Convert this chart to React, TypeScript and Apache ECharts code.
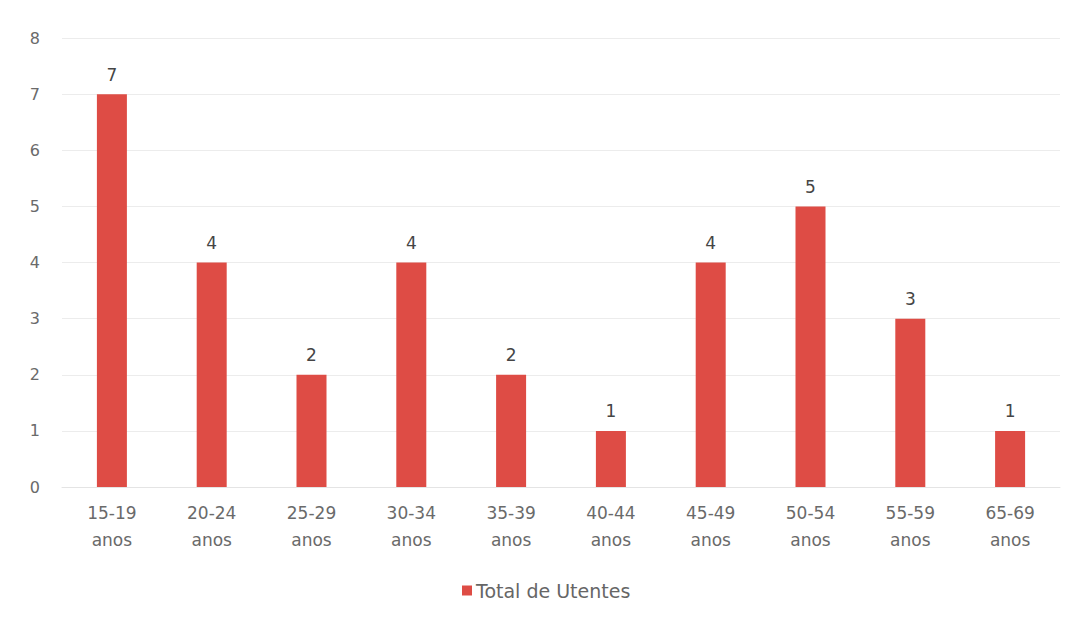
import React, { useEffect, useRef } from "react";
import * as echarts from "echarts";

const categories = [
  "15-19\nanos",
  "20-24\nanos",
  "25-29\nanos",
  "30-34\nanos",
  "35-39\nanos",
  "40-44\nanos",
  "45-49\nanos",
  "50-54\nanos",
  "55-59\nanos",
  "65-69\nanos",
];
const values = [7, 4, 2, 4, 2, 1, 4, 5, 3, 1];
const seriesName = "Total de Utentes";

export default function App() {
  const ref = useRef<HTMLDivElement>(null);
  useEffect(() => {
    if (!ref.current) return;
    const chart = echarts.init(ref.current, undefined, { renderer: "svg" });
    const font = "DejaVu Sans, sans-serif";
    chart.setOption({
      animation: false,
      backgroundColor: "#ffffff",
      textStyle: { fontFamily: font },
      grid: { left: 62, right: 16, top: 38, bottom: 132, containLabel: false },
      legend: {
        top: 576,
        left: 457,
        itemWidth: 10,
        itemHeight: 10,
        icon: "rect",
        itemGap: 6,
        textStyle: { color: "#666666", fontSize: 19, fontFamily: font, padding: [0, 0, 0, -1] },
        data: [seriesName],
      },
      xAxis: {
        type: "category",
        data: categories,
        axisLine: { show: true, lineStyle: { color: "#e4e4e4", width: 1 } },
        axisTick: { show: false },
        axisLabel: {
          color: "#6a6a6a",
          fontSize: 17,
          lineHeight: 27,
          margin: 12,
          interval: 0,
          fontFamily: font,
        },
      },
      yAxis: {
        type: "value",
        min: 0,
        max: 8,
        interval: 1,
        axisLine: { show: false },
        axisTick: { show: false },
        axisLabel: { color: "#6a6a6a", fontSize: 16, margin: 22, fontFamily: font },
        splitLine: { lineStyle: { color: "#ececec", width: 1 } },
      },
      series: [
        {
          name: seriesName,
          type: "bar",
          data: values,
          barWidth: 30,
          itemStyle: { color: "#de4c45" },
          label: {
            show: true,
            position: "top",
            distance: 11,
            color: "#454545",
            fontSize: 17,
            fontFamily: font,
          },
        },
      ],
    });
    return () => chart.dispose();
  }, []);
  return (
    <div
      ref={ref}
      style={{ position: "fixed", left: 0, top: 0, width: 1076, height: 619 }}
    />
  );
}
